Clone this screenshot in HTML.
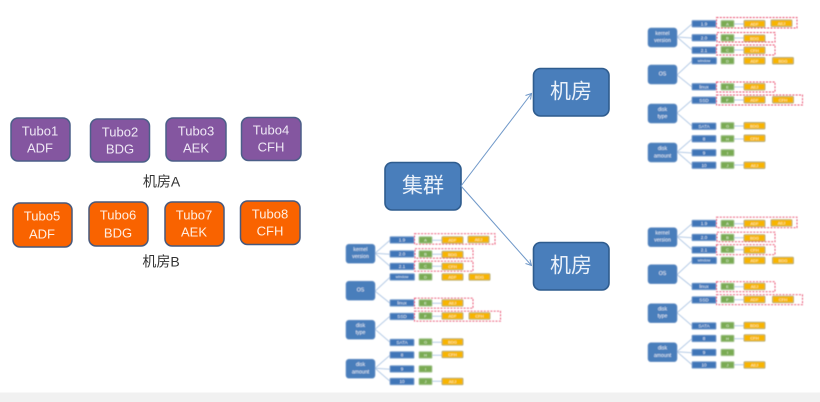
<!DOCTYPE html>
<html><head><meta charset="utf-8"><style>
html,body{margin:0;padding:0;background:#fff}
svg{display:block}
text{font-family:"Liberation Sans","Noto Sans CJK SC",sans-serif;text-anchor:middle;dominant-baseline:central}
.l{stroke:#b5cbe6;stroke-width:1;fill:none}
.p{fill:#4a7ebb;stroke:#6f97c8;stroke-width:.7}
.q{fill:#3f76b8;stroke:#7ea2cf;stroke-width:.9}
.g{fill:#7aab52;stroke:#acc998;stroke-width:.9}
.o{fill:#f7b500;stroke:#b5ad70;stroke-width:.9}
.d{fill:none;stroke:#e8496a;stroke-width:.95;stroke-dasharray:2 1.3}
.w{fill:#e8eff8;font-size:4.6px}
.k{fill:#eef3fa;font-size:5.2px}
.y{fill:#fff4d0;font-size:4px}
.e{fill:#eef5e6;font-size:4px}
.t{fill:#efe8f5;font-size:13px}
.u{fill:#ffeee2;font-size:13px}
.b{fill:#eaf1fa;font-size:21px}
.c{fill:#333;font-size:14px}
</style></head><body>
<svg width="820" height="402" viewBox="0 0 820 402" xmlns="http://www.w3.org/2000/svg">
<defs>
<filter id="s" x="-5%" y="-5%" width="110%" height="110%"><feGaussianBlur stdDeviation="0.45"/></filter>
<filter id="m" x="-5%" y="-5%" width="110%" height="110%"><feGaussianBlur stdDeviation="0.3"/></filter>
</defs>
<rect width="820" height="402" fill="#fff"/>
<rect y="392.500" width="820" height="9.500" fill="#f1f1f1"/>

<g filter="url(#m)">
<g fill="#8456a0" stroke="#4c5f88" stroke-width="1.5">
<rect x="11" y="118" width="59" height="43" rx="7"/>
<rect x="90.500" y="119" width="59" height="43" rx="7"/>
<rect x="166" y="118" width="60" height="43" rx="7"/>
<rect x="241.500" y="117.500" width="59.500" height="43" rx="7"/>
</g>
<g fill="#f96400" stroke="#46597c" stroke-width="1.5">
<rect x="13" y="203" width="59" height="44" rx="7"/>
<rect x="89" y="202" width="59" height="44" rx="7"/>
<rect x="165" y="202" width="59" height="44" rx="7"/>
<rect x="240.500" y="201" width="59.500" height="43.500" rx="7"/>
</g>
<text class="t" x="40" y="131">Tubo1</text><text class="t" x="40" y="148">ADF</text>
<text class="t" x="120" y="132">Tubo2</text><text class="t" x="120" y="149">BDG</text>
<text class="t" x="196" y="131">Tubo3</text><text class="t" x="196" y="148">AEK</text>
<text class="t" x="271" y="130">Tubo4</text><text class="t" x="271" y="147">CFH</text>
<text class="u" x="42" y="216">Tubo5</text><text class="u" x="42" y="234">ADF</text>
<text class="u" x="118" y="215">Tubo6</text><text class="u" x="118" y="233">BDG</text>
<text class="u" x="194" y="215">Tubo7</text><text class="u" x="194" y="232">AEK</text>
<text class="u" x="270" y="214">Tubo8</text><text class="u" x="270" y="231">CFH</text>
<text class="c" x="161.500" y="181.500">机房A</text>
<text class="c" x="161" y="261.500">机房B</text>

<g fill="#4a7ebb" stroke="#2f5b8e" stroke-width="1.6">
<rect x="385" y="162.500" width="76" height="47.500" rx="7"/>
<rect x="533.500" y="68.500" width="75.500" height="47.500" rx="7"/>
<rect x="533.500" y="242.500" width="75.500" height="47.500" rx="7"/>
</g>
<text class="b" x="423" y="186">集群</text>
<text class="b" x="571" y="92">机房</text>
<text class="b" x="571" y="266">机房</text>
<g fill="none" stroke="#6e97c8" stroke-width="1">
<path d="M461 186L531.500 93.500"/><path d="M525.500 95.500L531.500 93.500L530.500 99.500"/>
<path d="M461 186L531.500 265.500"/><path d="M530 259.500L531.500 265.500L525.500 263.500"/>
</g>
</g>

<g filter="url(#s)">
<g id="t1">
<path class="l" d="M677 37L692 24M677 37L692 38M677 37L692 50M677 75L692 61M677 75L692 87M677 113L692 100M677 113L692 126M677 152L692 139M677 152L692 153M677 152L692 165M734 24H744M734 38H744M734 50H744M734 87H744M734 100H744M734 126H744M734 139H744M734 165H744"/>
<rect class="p" x="648" y="28" width="29" height="19" rx="3"/><text class="k" x="662.500" y="34">kernel</text><text class="k" x="662.500" y="41">version</text>
<rect class="p" x="648" y="65" width="29" height="19" rx="3"/><text class="k" x="662.500" y="74.500">OS</text>
<rect class="p" x="648" y="104" width="29" height="19" rx="3"/><text class="k" x="662.500" y="110">disk</text><text class="k" x="662.500" y="117">type</text>
<rect class="p" x="648" y="143" width="29" height="19" rx="3"/><text class="k" x="662.500" y="149">disk</text><text class="k" x="662.500" y="156.500">amount</text>
<rect class="q" x="692" y="20.500" width="24" height="6.500" rx="1"/><text class="w" x="704" y="23.800">1.9</text>
<rect class="q" x="692" y="34.500" width="24" height="6.500" rx="1"/><text class="w" x="704" y="37.800">2.0</text>
<rect class="q" x="692" y="47" width="24" height="6.500" rx="1"/><text class="w" x="704" y="50.300">2.1</text>
<rect class="q" x="692" y="57.500" width="24.500" height="6.500" rx="1"/><text class="w" x="704" y="60.800" style="font-size:3.800px">window</text>
<rect class="q" x="692" y="83.500" width="24" height="6.500" rx="1"/><text class="w" x="704" y="86.800">linux</text>
<rect class="q" x="692" y="97" width="24" height="6.500" rx="1"/><text class="w" x="704" y="100.300">SSD</text>
<rect class="q" x="692" y="123" width="24" height="6.500" rx="1"/><text class="w" x="704" y="126.300">SATA</text>
<rect class="q" x="692" y="135.500" width="24" height="6.500" rx="1"/><text class="w" x="704" y="138.800">8</text>
<rect class="q" x="692" y="149.500" width="24" height="6.500" rx="1"/><text class="w" x="704" y="152.800">9</text>
<rect class="q" x="692" y="162" width="24" height="6.500" rx="1"/><text class="w" x="704" y="165.300">10</text>
<rect class="g" x="721" y="20.500" width="13" height="6.500" rx="1"/><text class="e" x="727.500" y="23.800">A</text>
<rect class="g" x="721" y="34.500" width="13" height="6.500" rx="1"/><text class="e" x="727.500" y="37.800">B</text>
<rect class="g" x="721" y="46.500" width="13" height="6.500" rx="1"/><text class="e" x="727.500" y="49.800">C</text>
<rect class="g" x="721" y="57.500" width="13" height="6.500" rx="1"/><text class="e" x="727.500" y="60.800">D</text>
<rect class="g" x="721" y="83.500" width="13" height="6.500" rx="1"/><text class="e" x="727.500" y="86.800">E</text>
<rect class="g" x="721" y="96.500" width="13" height="6.500" rx="1"/><text class="e" x="727.500" y="99.800">F</text>
<rect class="g" x="721" y="122.500" width="13" height="6.500" rx="1"/><text class="e" x="727.500" y="125.800">G</text>
<rect class="g" x="721" y="135.500" width="13" height="6.500" rx="1"/><text class="e" x="727.500" y="138.800">H</text>
<rect class="g" x="721" y="149.500" width="13" height="6.500" rx="1"/><text class="e" x="727.500" y="152.800">I</text>
<rect class="g" x="721" y="162" width="13" height="6.500" rx="1"/><text class="e" x="727.500" y="165.300">J</text>
<rect class="o" x="744" y="20.500" width="21" height="6.500" rx="1"/><text class="y" x="754.500" y="23.800">ADF</text>
<rect class="o" x="771" y="20" width="21" height="6.500" rx="1"/><text class="y" x="781.500" y="23.300">AEJ</text>
<rect class="o" x="744" y="35" width="21" height="6.500" rx="1"/><text class="y" x="754.500" y="38.300">BDG</text>
<rect class="o" x="744" y="47" width="21" height="6.500" rx="1"/><text class="y" x="754.500" y="50.300">CFH</text>
<rect class="o" x="744" y="57.500" width="21" height="6.500" rx="1"/><text class="y" x="754.500" y="60.800">ADF</text>
<rect class="o" x="772.500" y="57.500" width="21" height="6.500" rx="1"/><text class="y" x="783" y="60.800">BDG</text>
<rect class="o" x="744" y="83.500" width="21" height="6.500" rx="1"/><text class="y" x="754.500" y="86.800">AEJ</text>
<rect class="o" x="744" y="96.500" width="21" height="6.500" rx="1"/><text class="y" x="754.500" y="99.800">ADF</text>
<rect class="o" x="772.500" y="96.500" width="21" height="6.500" rx="1"/><text class="y" x="783" y="99.800">CFH</text>
<rect class="o" x="744" y="122.500" width="21" height="6.500" rx="1"/><text class="y" x="754.500" y="125.800">BDG</text>
<rect class="o" x="744" y="135" width="21" height="6.500" rx="1"/><text class="y" x="754.500" y="138.300">CFH</text>
<rect class="o" x="744" y="162" width="21" height="6.500" rx="1"/><text class="y" x="754.500" y="165.300">AEJ</text>
<rect class="d" x="716.500" y="17.500" width="80.500" height="10.500"/>
<rect class="d" x="717" y="32.500" width="58" height="9.500"/>
<rect class="d" x="716.500" y="45" width="58.500" height="10"/>
<rect class="d" x="716.500" y="82" width="58.500" height="10"/>
<rect class="d" x="716.500" y="95" width="86" height="10"/>
</g>

<g transform="translate(0,199.700)">
<path class="l" d="M677 37L692 24M677 37L692 38M677 37L692 50M677 75L692 61M677 75L692 87M677 113L692 100M677 113L692 126M677 152L692 139M677 152L692 153M677 152L692 165M734 24H744M734 38H744M734 50H744M734 87H744M734 100H744M734 126H744M734 139H744M734 165H744"/>
<rect class="p" x="648" y="28" width="29" height="19" rx="3"/><text class="k" x="662.500" y="34">kernel</text><text class="k" x="662.500" y="41">version</text>
<rect class="p" x="648" y="65" width="29" height="19" rx="3"/><text class="k" x="662.500" y="74.500">OS</text>
<rect class="p" x="648" y="104" width="29" height="19" rx="3"/><text class="k" x="662.500" y="110">disk</text><text class="k" x="662.500" y="117">type</text>
<rect class="p" x="648" y="143" width="29" height="19" rx="3"/><text class="k" x="662.500" y="149">disk</text><text class="k" x="662.500" y="156.500">amount</text>
<rect class="q" x="692" y="20.500" width="24" height="6.500" rx="1"/><text class="w" x="704" y="23.800">1.9</text>
<rect class="q" x="692" y="34.500" width="24" height="6.500" rx="1"/><text class="w" x="704" y="37.800">2.0</text>
<rect class="q" x="692" y="47" width="24" height="6.500" rx="1"/><text class="w" x="704" y="50.300">2.1</text>
<rect class="q" x="692" y="57.500" width="24.500" height="6.500" rx="1"/><text class="w" x="704" y="60.800" style="font-size:3.800px">window</text>
<rect class="q" x="692" y="83.500" width="24" height="6.500" rx="1"/><text class="w" x="704" y="86.800">linux</text>
<rect class="q" x="692" y="97" width="24" height="6.500" rx="1"/><text class="w" x="704" y="100.300">SSD</text>
<rect class="q" x="692" y="123" width="24" height="6.500" rx="1"/><text class="w" x="704" y="126.300">SATA</text>
<rect class="q" x="692" y="135.500" width="24" height="6.500" rx="1"/><text class="w" x="704" y="138.800">8</text>
<rect class="q" x="692" y="149.500" width="24" height="6.500" rx="1"/><text class="w" x="704" y="152.800">9</text>
<rect class="q" x="692" y="162" width="24" height="6.500" rx="1"/><text class="w" x="704" y="165.300">10</text>
<rect class="g" x="721" y="20.500" width="13" height="6.500" rx="1"/><text class="e" x="727.500" y="23.800">A</text>
<rect class="g" x="721" y="34.500" width="13" height="6.500" rx="1"/><text class="e" x="727.500" y="37.800">B</text>
<rect class="g" x="721" y="46.500" width="13" height="6.500" rx="1"/><text class="e" x="727.500" y="49.800">C</text>
<rect class="g" x="721" y="57.500" width="13" height="6.500" rx="1"/><text class="e" x="727.500" y="60.800">D</text>
<rect class="g" x="721" y="83.500" width="13" height="6.500" rx="1"/><text class="e" x="727.500" y="86.800">E</text>
<rect class="g" x="721" y="96.500" width="13" height="6.500" rx="1"/><text class="e" x="727.500" y="99.800">F</text>
<rect class="g" x="721" y="122.500" width="13" height="6.500" rx="1"/><text class="e" x="727.500" y="125.800">G</text>
<rect class="g" x="721" y="135.500" width="13" height="6.500" rx="1"/><text class="e" x="727.500" y="138.800">H</text>
<rect class="g" x="721" y="149.500" width="13" height="6.500" rx="1"/><text class="e" x="727.500" y="152.800">I</text>
<rect class="g" x="721" y="162" width="13" height="6.500" rx="1"/><text class="e" x="727.500" y="165.300">J</text>
<rect class="o" x="744" y="20.500" width="21" height="6.500" rx="1"/><text class="y" x="754.500" y="23.800">ADF</text>
<rect class="o" x="771" y="20" width="21" height="6.500" rx="1"/><text class="y" x="781.500" y="23.300">AEJ</text>
<rect class="o" x="744" y="35" width="21" height="6.500" rx="1"/><text class="y" x="754.500" y="38.300">BDG</text>
<rect class="o" x="744" y="47" width="21" height="6.500" rx="1"/><text class="y" x="754.500" y="50.300">CFH</text>
<rect class="o" x="744" y="57.500" width="21" height="6.500" rx="1"/><text class="y" x="754.500" y="60.800">ADF</text>
<rect class="o" x="772.500" y="57.500" width="21" height="6.500" rx="1"/><text class="y" x="783" y="60.800">BDG</text>
<rect class="o" x="744" y="83.500" width="21" height="6.500" rx="1"/><text class="y" x="754.500" y="86.800">AEJ</text>
<rect class="o" x="744" y="96.500" width="21" height="6.500" rx="1"/><text class="y" x="754.500" y="99.800">ADF</text>
<rect class="o" x="772.500" y="96.500" width="21" height="6.500" rx="1"/><text class="y" x="783" y="99.800">CFH</text>
<rect class="o" x="744" y="122.500" width="21" height="6.500" rx="1"/><text class="y" x="754.500" y="125.800">BDG</text>
<rect class="o" x="744" y="135" width="21" height="6.500" rx="1"/><text class="y" x="754.500" y="138.300">CFH</text>
<rect class="o" x="744" y="162" width="21" height="6.500" rx="1"/><text class="y" x="754.500" y="165.300">AEJ</text>
<rect class="d" x="716.500" y="17.500" width="80.500" height="10.500"/>
<rect class="d" x="717" y="32.500" width="58" height="9.500"/>
<rect class="d" x="716.500" y="45" width="58.500" height="10"/>
<rect class="d" x="716.500" y="82" width="58.500" height="10"/>
<rect class="d" x="716.500" y="95" width="86" height="10"/>
</g>

<g transform="translate(-302,216.200)">
<path class="l" d="M677 37L692 24M677 37L692 38M677 37L692 50M677 75L692 61M677 75L692 87M677 113L692 100M677 113L692 126M677 152L692 139M677 152L692 153M677 152L692 165M734 24H744M734 38H744M734 50H744M734 87H744M734 100H744M734 126H744M734 139H744M734 165H744"/>
<rect class="p" x="648" y="28" width="29" height="19" rx="3"/><text class="k" x="662.500" y="34">kernel</text><text class="k" x="662.500" y="41">version</text>
<rect class="p" x="648" y="65" width="29" height="19" rx="3"/><text class="k" x="662.500" y="74.500">OS</text>
<rect class="p" x="648" y="104" width="29" height="19" rx="3"/><text class="k" x="662.500" y="110">disk</text><text class="k" x="662.500" y="117">type</text>
<rect class="p" x="648" y="143" width="29" height="19" rx="3"/><text class="k" x="662.500" y="149">disk</text><text class="k" x="662.500" y="156.500">amount</text>
<rect class="q" x="692" y="20.500" width="24" height="6.500" rx="1"/><text class="w" x="704" y="23.800">1.9</text>
<rect class="q" x="692" y="34.500" width="24" height="6.500" rx="1"/><text class="w" x="704" y="37.800">2.0</text>
<rect class="q" x="692" y="47" width="24" height="6.500" rx="1"/><text class="w" x="704" y="50.300">2.1</text>
<rect class="q" x="692" y="57.500" width="24.500" height="6.500" rx="1"/><text class="w" x="704" y="60.800" style="font-size:3.800px">window</text>
<rect class="q" x="692" y="83.500" width="24" height="6.500" rx="1"/><text class="w" x="704" y="86.800">linux</text>
<rect class="q" x="692" y="97" width="24" height="6.500" rx="1"/><text class="w" x="704" y="100.300">SSD</text>
<rect class="q" x="692" y="123" width="24" height="6.500" rx="1"/><text class="w" x="704" y="126.300">SATA</text>
<rect class="q" x="692" y="135.500" width="24" height="6.500" rx="1"/><text class="w" x="704" y="138.800">8</text>
<rect class="q" x="692" y="149.500" width="24" height="6.500" rx="1"/><text class="w" x="704" y="152.800">9</text>
<rect class="q" x="692" y="162" width="24" height="6.500" rx="1"/><text class="w" x="704" y="165.300">10</text>
<rect class="g" x="721" y="20.500" width="13" height="6.500" rx="1"/><text class="e" x="727.500" y="23.800">A</text>
<rect class="g" x="721" y="34.500" width="13" height="6.500" rx="1"/><text class="e" x="727.500" y="37.800">B</text>
<rect class="g" x="721" y="46.500" width="13" height="6.500" rx="1"/><text class="e" x="727.500" y="49.800">C</text>
<rect class="g" x="721" y="57.500" width="13" height="6.500" rx="1"/><text class="e" x="727.500" y="60.800">D</text>
<rect class="g" x="721" y="83.500" width="13" height="6.500" rx="1"/><text class="e" x="727.500" y="86.800">E</text>
<rect class="g" x="721" y="96.500" width="13" height="6.500" rx="1"/><text class="e" x="727.500" y="99.800">F</text>
<rect class="g" x="721" y="122.500" width="13" height="6.500" rx="1"/><text class="e" x="727.500" y="125.800">G</text>
<rect class="g" x="721" y="135.500" width="13" height="6.500" rx="1"/><text class="e" x="727.500" y="138.800">H</text>
<rect class="g" x="721" y="149.500" width="13" height="6.500" rx="1"/><text class="e" x="727.500" y="152.800">I</text>
<rect class="g" x="721" y="162" width="13" height="6.500" rx="1"/><text class="e" x="727.500" y="165.300">J</text>
<rect class="o" x="744" y="20.500" width="21" height="6.500" rx="1"/><text class="y" x="754.500" y="23.800">ADF</text>
<rect class="o" x="770" y="20" width="21" height="6.500" rx="1"/><text class="y" x="780.500" y="23.300">AEJ</text>
<rect class="o" x="744" y="35" width="21" height="6.500" rx="1"/><text class="y" x="754.500" y="38.300">BDG</text>
<rect class="o" x="744" y="47" width="21" height="6.500" rx="1"/><text class="y" x="754.500" y="50.300">CFH</text>
<rect class="o" x="744" y="57.500" width="21" height="6.500" rx="1"/><text class="y" x="754.500" y="60.800">ADF</text>
<rect class="o" x="771" y="57.500" width="21" height="6.500" rx="1"/><text class="y" x="781.500" y="60.800">BDG</text>
<rect class="o" x="744" y="83.500" width="21" height="6.500" rx="1"/><text class="y" x="754.500" y="86.800">AEJ</text>
<rect class="o" x="744" y="96.500" width="21" height="6.500" rx="1"/><text class="y" x="754.500" y="99.800">ADF</text>
<rect class="o" x="771" y="96.500" width="21" height="6.500" rx="1"/><text class="y" x="781.500" y="99.800">CFH</text>
<rect class="o" x="744" y="122.500" width="21" height="6.500" rx="1"/><text class="y" x="754.500" y="125.800">BDG</text>
<rect class="o" x="744" y="135" width="21" height="6.500" rx="1"/><text class="y" x="754.500" y="138.300">CFH</text>
<rect class="o" x="744" y="162" width="21" height="6.500" rx="1"/><text class="y" x="754.500" y="165.300">AEJ</text>
<rect class="d" x="716.500" y="17.500" width="80.500" height="10.500"/>
<rect class="d" x="717" y="32.500" width="58" height="9.500"/>
<rect class="d" x="716.500" y="45" width="58.500" height="10"/>
<rect class="d" x="716.500" y="82" width="58.500" height="10"/>
<rect class="d" x="716.500" y="95" width="86" height="10"/>
</g>
</g>
</svg>
</body></html>
